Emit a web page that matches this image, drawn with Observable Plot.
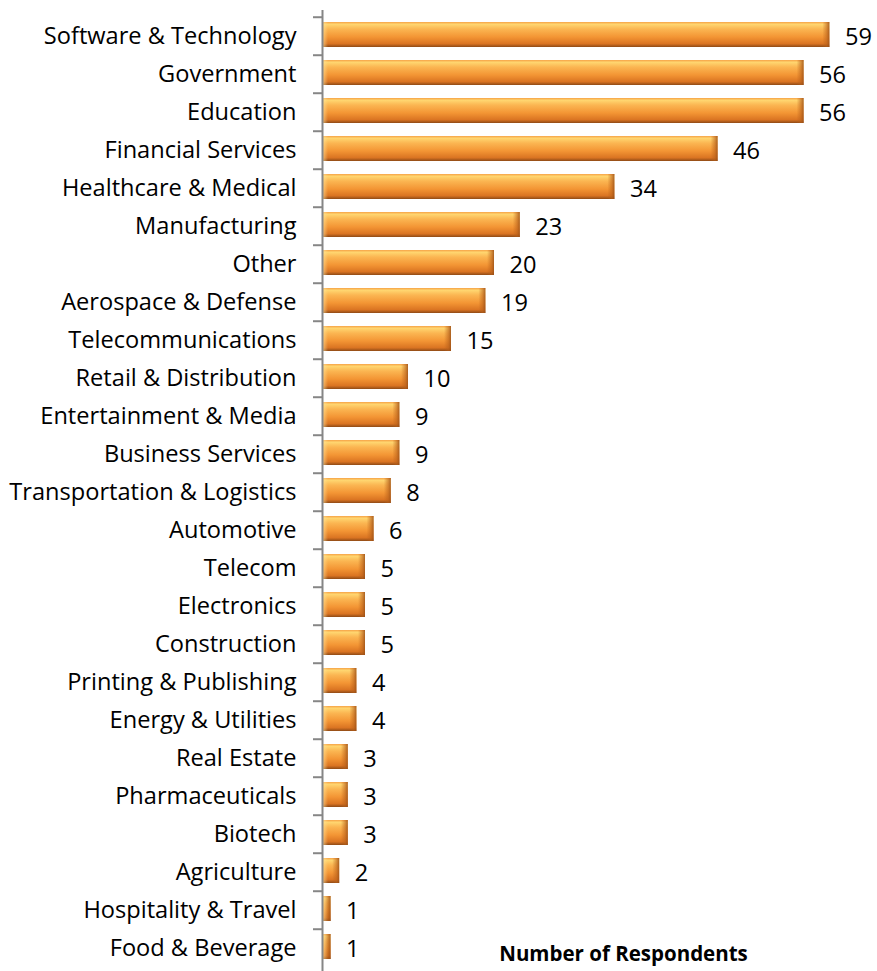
<!DOCTYPE html>
<html>
<head>
<meta charset="utf-8">
<script src="https://cdn.jsdelivr.net/npm/d3@7"></script>
<script src="https://cdn.jsdelivr.net/npm/@observablehq/plot@0.6"></script>
<style>
  html, body { margin: 0; padding: 0; background: #fff; overflow: hidden; }
  #chart svg { display: block; max-width: none; }
</style>
</head>
<body>
<div id="chart"></div>
<script>
const categories = [
  "Software & Technology", "Government", "Education", "Financial Services",
  "Healthcare & Medical", "Manufacturing", "Other", "Aerospace & Defense",
  "Telecommunications", "Retail & Distribution", "Entertainment & Media",
  "Business Services", "Transportation & Logistics", "Automotive", "Telecom",
  "Electronics", "Construction", "Printing & Publishing", "Energy & Utilities",
  "Real Estate", "Pharmaceuticals", "Biotech", "Agriculture",
  "Hospitality & Travel", "Food & Beverage"
];
const values = [59, 56, 56, 46, 34, 23, 20, 19, 15, 10, 9, 9, 8, 6, 5, 5, 5, 4, 4, 3, 3, 3, 2, 1, 1];
const axisTitle = "Number of Respondents";

const data = categories.map((c, i) => ({category: c, value: values[i]}));

const W = 877, H = 971;
const yTop = 10, step = 38.55;
const yBottom = yTop + step * categories.length;

const chart = Plot.plot({
  width: W,
  height: H,
  marginLeft: 322,
  marginRight: 39,
  marginTop: 10,
  marginBottom: 0,
  style: {fontFamily: "'Open Sans', Calibri, sans-serif", background: "#fff"},
  x: {domain: [0, 60], axis: null},
  y: {domain: categories, padding: 0, range: [yTop, yBottom], axis: null},
  marks: [
    Plot.barX(data, {
      y: "category", x: "value",
      insetTop: 5, insetBottom: 8,
      fill: "url(#barGrad)"
    }),
    // bevel at the right end of each bar
    Plot.barX(data, {
      y: "category", x1: "value", x2: "value",
      insetTop: 5, insetBottom: 8, insetLeft: -7,
      fill: "url(#endGrad)"
    }),
    // bevel at the left end of each bar
    Plot.barX(data, {
      y: "category", x1: 0, x2: 0,
      insetTop: 5, insetBottom: 8, insetRight: -6,
      fill: "url(#startGrad)"
    }),
    Plot.axisY({
      tickSize: 0, tickPadding: 26, fontSize: 23.6, fill: "#000",
      label: null
    }),
    Plot.axisY({
      tickSize: 9, text: null, dy: -step / 2, stroke: "#868686", strokeWidth: 2,
      label: null
    }),
    Plot.ruleX([0], {stroke: "#868686", strokeWidth: 2}),
    Plot.text(data, {
      y: "category", x: "value", text: d => String(d.value),
      textAnchor: "start", dx: 15, dy: 1, fontSize: 23.6, fill: "#000"
    }),
    Plot.text([axisTitle], {
      x: 35, frameAnchor: "bottom", text: d => d, dy: -11,
      fontSize: 20.5, fontWeight: "bold", fill: "#000"
    })
  ]
});

const svgNS = "http://www.w3.org/2000/svg";
const defs = document.createElementNS(svgNS, "defs");
defs.innerHTML = `
  <linearGradient id="barGrad" x1="0" y1="0" x2="0" y2="1">
    <stop offset="0" stop-color="#f6a246"/>
    <stop offset="0.09" stop-color="#ffd670"/>
    <stop offset="0.28" stop-color="#fbb652"/>
    <stop offset="0.6" stop-color="#f39534"/>
    <stop offset="0.87" stop-color="#da7422"/>
    <stop offset="1" stop-color="#8f4a16"/>
  </linearGradient>
  <linearGradient id="endGrad" x1="0" y1="0" x2="1" y2="0">
    <stop offset="0" stop-color="#b8601a" stop-opacity="0"/>
    <stop offset="0.6" stop-color="#b8601a" stop-opacity="0.55"/>
    <stop offset="1" stop-color="#9a4f16" stop-opacity="0.85"/>
  </linearGradient>
  <linearGradient id="startGrad" x1="0" y1="0" x2="1" y2="0">
    <stop offset="0" stop-color="#ffe39a" stop-opacity="0.7"/>
    <stop offset="1" stop-color="#ffe39a" stop-opacity="0"/>
  </linearGradient>
  <filter id="barShadow" x="-5%" y="-30%" width="115%" height="180%">
    <feDropShadow dx="2" dy="3" stdDeviation="2" flood-color="#000" flood-opacity="0.3"/>
  </filter>`;
chart.insertBefore(defs, chart.firstChild);
chart.querySelectorAll('rect[fill="url(#barGrad)"]').forEach(r => r.setAttribute("filter", "url(#barShadow)"));

document.getElementById("chart").appendChild(chart);
</script>
</body>
</html>
